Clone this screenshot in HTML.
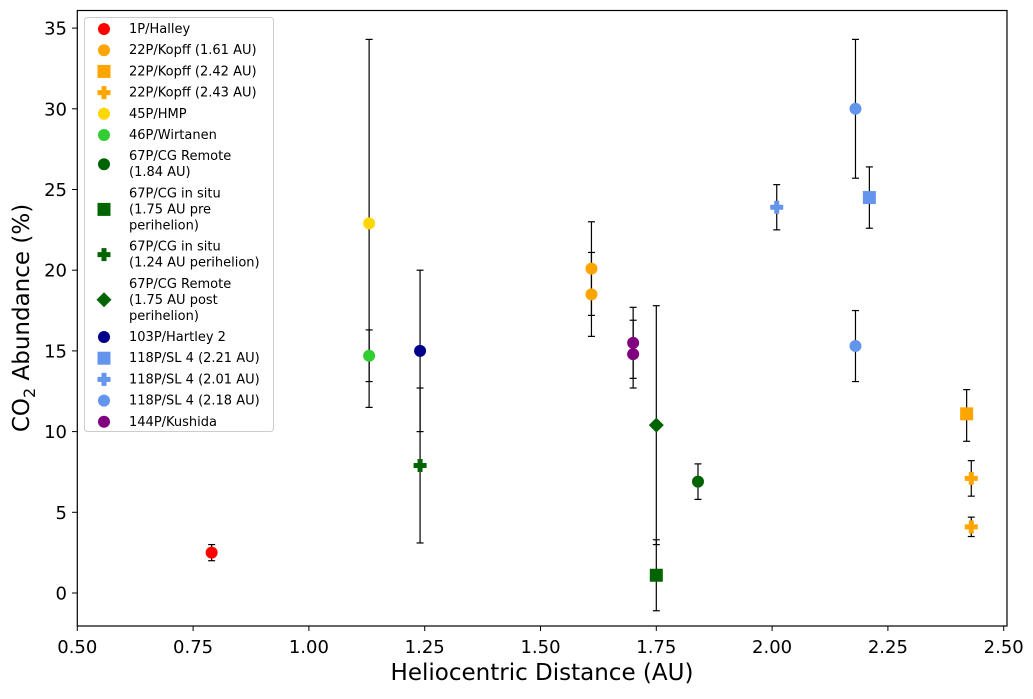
<!DOCTYPE html>
<html><head><meta charset="utf-8"><style>
body{margin:0;background:#fff;font-family:"Liberation Sans","DejaVu Sans",sans-serif}
svg text{font-family:"DejaVu Sans","Liberation Sans",sans-serif}
</style></head><body>
<svg id="chart" width="1033" height="694" xmlns="http://www.w3.org/2000/svg">
<rect x="0" y="0" width="1033" height="694" fill="#fff"/>
<g id="errs"></g><g id="marks"></g>
<rect x="77.3" y="10.5" width="929.7" height="615.5" fill="none" stroke="#000" stroke-width="1.2"/>
<g id="xt"></g><g id="yt"></g>
<text x="542" y="680" font-size="23" text-anchor="middle">Heliocentric Distance (AU)</text>
<text transform="translate(29,318) rotate(-90)" font-size="23" text-anchor="middle">CO<tspan font-size="16" dy="6">2</tspan><tspan dy="-6"> Abundance (%)</tspan></text>
<g id="legend"></g>
</svg>
<script>
const names=["1P/Halley","22P/Kopff (1.61 AU)","22P/Kopff (2.42 AU)","22P/Kopff (2.43 AU)","45P/HMP","46P/Wirtanen","67P/CG Remote\n(1.84 AU)","67P/CG in situ\n(1.75 AU pre\nperihelion)","67P/CG in situ\n(1.24 AU perihelion)","67P/CG Remote\n(1.75 AU post\nperihelion)","103P/Hartley 2","118P/SL 4 (2.21 AU)","118P/SL 4 (2.01 AU)","118P/SL 4 (2.18 AU)","144P/Kushida"];
const colors=["#ff0000","#ffa500","#ffa500","#ffa500","#ffd700","#32cd32","#006400","#006400","#006400","#006400","#00008b","#6495ed","#6495ed","#6495ed","#800080"];
const shapes=["o","o","s","p","o","o","o","s","p","d","o","s","p","o","o"];
const xs=[[0.79],[1.61,1.61],[2.42],[2.43,2.43],[1.13],[1.13],[1.84],[1.75],[1.24],[1.75],[1.24],[2.21],[2.01],[2.18,2.18],[1.70,1.70]];
const ys=[[2.5],[20.1,18.5],[11.1],[7.1,4.1],[22.9],[14.7],[6.9],[1.1],[7.9],[10.4],[15.0],[24.5],[23.9],[30.0,15.3],[15.5,14.8]];
const errLo=[[2.0],[17.2,15.9],[9.4],[6.0,3.5],[11.5],[13.1],[5.8],[-1.1],[3.1],[3.0],[10.0],[22.6],[22.5],[25.7,13.1],[13.3,12.7]];
const errHi=[[3.0],[23.0,21.1],[12.6],[8.2,4.7],[34.3],[16.3],[8.0],[3.3],[12.7],[17.8],[20.0],[26.4],[25.3],[34.3,17.5],[17.7,16.9]];
const xTicks=[0.5,0.75,1.0,1.25,1.5,1.75,2.0,2.25,2.5];
const yTicks=[0,5,10,15,20,25,30,35];
const X=v=>77.3+(v-0.5)*463.2, Y=v=>593-v*16.14;
const NS="http://www.w3.org/2000/svg";
function el(t,a,p){const e=document.createElementNS(NS,t);for(const k in a)e.setAttribute(k,a[k]);p.appendChild(e);return e;}
function marker(s,x,y,c,p){
  if(s==="o") return el("circle",{cx:x,cy:y,r:6,fill:c},p);
  if(s==="s") return el("rect",{x:x-6.5,y:y-6.5,width:13,height:13,fill:c},p);
  if(s==="d") return el("polygon",{points:`${x},${y-7.5} ${x+7.5},${y} ${x},${y+7.5} ${x-7.5},${y}`,fill:c},p);
  return el("path",{d:`M${x-2.5},${y-6.5}h5v4h4v5h-4v4h-5v-4h-4v-5h4z`,fill:c},p);
}
const errs=document.getElementById("errs"),marks=document.getElementById("marks");
names.forEach((n,i)=>{xs[i].forEach((xv,j)=>{
  const x=X(xv);
  const g=el("g",{},errs);
  
  
  el("line",{x1:x,x2:x,y1:Y(errLo[i][j]),y2:Y(errHi[i][j]),stroke:"#000","stroke-width":1.2},g);
  el("line",{x1:x-3.5,x2:x+3.5,y1:Y(errLo[i][j]),y2:Y(errLo[i][j]),stroke:"#000","stroke-width":1.2},g);
  el("line",{x1:x-3.5,x2:x+3.5,y1:Y(errHi[i][j]),y2:Y(errHi[i][j]),stroke:"#000","stroke-width":1.2},g);
  const m=marker(shapes[i],x,Y(ys[i][j]),colors[i],marks);
  
  
});});
const xt=document.getElementById("xt");
xTicks.forEach(v=>{const x=X(v);
  el("line",{x1:x,x2:x,y1:626,y2:631,stroke:"#000"},xt);
  const t=el("text",{x:x,y:653,"font-size":"18","text-anchor":"middle"},xt);t.textContent=v.toFixed(2);
  
  
});
const yt=document.getElementById("yt");
yTicks.forEach(v=>{const y=Y(v);
  el("line",{x1:72,x2:77.3,y1:y,y2:y,stroke:"#000"},yt);
  const t=el("text",{x:67,y:y+6.5,"font-size":"18","text-anchor":"end"},yt);t.textContent=v;
  
  
});
const lg=document.getElementById("legend");
el("rect",{x:84.5,y:17.5,width:189,height:414,rx:3,fill:"#fff",stroke:"#ccc"},lg);
let y=28;
names.forEach((n,i)=>{const lines=n.split("\n");const h=(lines.length-1)*16;
  const my=y+h/2;
  const m=marker(shapes[i],104,my+1,colors[i],lg);
  
  
  lines.forEach((ln,k)=>{const t=el("text",{x:129,y:y+k*16+5,"font-size":"13"},lg);t.textContent=ln;
    
    });
  y+=h+21.2;
});
</script>
</body></html>
